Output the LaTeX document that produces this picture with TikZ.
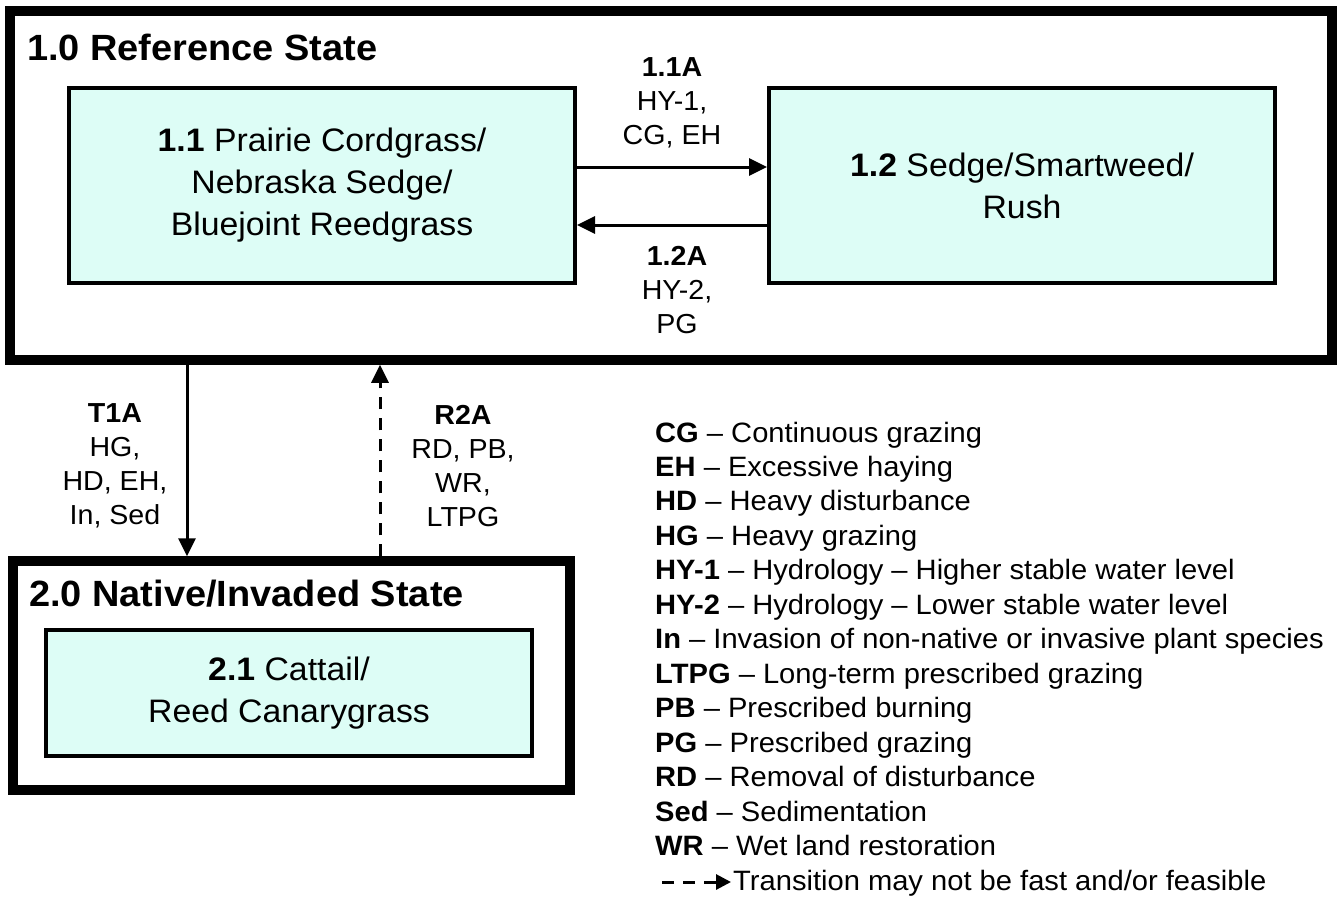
\documentclass[tikz,border=0pt]{standalone}
\usepackage{fontspec}
\setmainfont{Liberation Sans}[FakeStretch=1.04]
\usetikzlibrary{arrows.meta}
\definecolor{boxfill}{RGB}{221,253,246}

\begin{document}
\begin{tikzpicture}[x=1pt, y=-1pt,
    statebox/.style={draw, line width=9.5pt, inner sep=0pt},
    phasebox/.style={draw, line width=4pt, fill=boxfill, inner sep=0pt, align=center,
        font=\fontsize{32.5}{42}\selectfont},
    statetitle/.style={anchor=base west, inner sep=0pt, font=\fontsize{36.5}{40}\selectfont\bfseries},
    lbl/.style={align=center, inner sep=0pt, font=\fontsize{27.5}{34}\selectfont},
    trans/.style={line width=3pt, -{Triangle[length=18pt,width=17pt]}},
    keytext/.style={anchor=base west, inner sep=0pt, font=\fontsize{28}{34}\selectfont}]
    \useasboundingbox (0,0) rectangle (1337,900);

    % states
    \node[statebox, minimum width=1322pt, minimum height=349pt] (ref) at (671,185.5) {};
    \node[statetitle] (reftitle) at (27,60) {1.0 Reference State};
    \node[statebox, minimum width=557pt, minimum height=229pt] (inv) at (291.5,675.5) {};
    \node[statetitle] (invtitle) at (29,606) {2.0 Native/Invaded State};

    % community phases
    \node[phasebox, minimum width=506pt, minimum height=195pt] (p11) at (322,185.5)
        {\textbf{1.1} Prairie Cordgrass/\\Nebraska Sedge/\\Bluejoint Reedgrass};
    \node[phasebox, minimum width=506pt, minimum height=195pt] (p12) at (1022,185.5)
        {\textbf{1.2} Sedge/Smartweed/\\Rush};
    \node[phasebox, minimum width=486pt, minimum height=126pt] (p21) at (289,693)
        {\textbf{2.1} Cattail/\\Reed Canarygrass};

    % pathways
    \draw[trans] ([yshift=18.5pt]p11.east) -- ([yshift=18.5pt]p12.west);
    \draw[trans] ([yshift=-39.5pt]p12.west) -- ([yshift=-39.5pt]p11.east);
    \node[lbl] (l11a) at (672,102.5) {\textbf{1.1A}\\HY-1,\\CG, EH};
    \node[lbl] (l12a) at (677,290) {\textbf{1.2A}\\HY-2,\\PG};

    % transitions
    \coordinate (t1ax) at (187,0);
    \coordinate (r2ax) at (380,0);
    \draw[trans] (ref.south -| t1ax) -- (inv.north -| t1ax);
    \draw[trans, dash pattern=on 12pt off 9pt] (inv.north -| r2ax) -- (ref.south -| r2ax);
    \node[lbl] (lt1a) at (115,466) {\textbf{T1A}\\HG,\\HD, EH,\\In, Sed};
    \node[lbl] (lr2a) at (463,466) {\textbf{R2A}\\RD, PB,\\WR,\\LTPG};

    % legend
    \foreach \abbr/\desc [count=\i] in {CG/Continuous grazing, EH/Excessive haying,
        HD/Heavy disturbance, HG/Heavy grazing,
        HY-1/Hydrology – Higher stable water level, HY-2/Hydrology – Lower stable water level,
        In/Invasion of non-native or invasive plant species, LTPG/Long-term prescribed grazing,
        PB/Prescribed burning, PG/Prescribed grazing, RD/Removal of disturbance,
        Sed/Sedimentation, WR/Wet land restoration}
        \node[keytext] (key\i) at (655,{442+34.46*(\i-1)}) {\textbf{\abbr} – \desc};
    \coordinate (keyS) at (662,882);
    \coordinate (keyE) at (731,882);
    \draw[line width=3pt, dash pattern=on 12pt off 9pt, -{Triangle[length=15pt,width=15pt]}] (keyS) -- (keyE);
    \node[keytext] (keylast) at (733,890) {Transition may not be fast and/or feasible};
\end{tikzpicture}
\end{document}
